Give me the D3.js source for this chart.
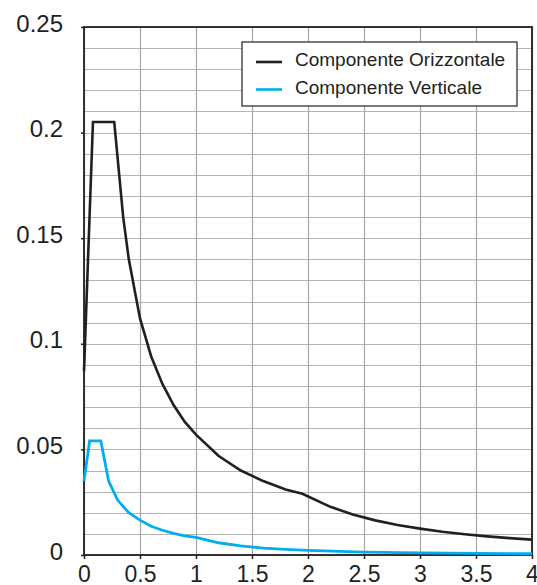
<!DOCTYPE html>
<html>
<head>
<meta charset="utf-8">
<script src="https://cdn.jsdelivr.net/npm/d3@7"></script>
<style>
  html, body { margin: 0; padding: 0; background: #fff; }
  svg text { font-family: "Liberation Sans", Arial, sans-serif; fill: #231f20; }
</style>
</head>
<body>
<div id="chart"></div>
<script>
// periods (s) and spectral values
const periodsH = [0, 0.08, 0.27, 0.3, 0.35, 0.4, 0.5, 0.6, 0.7, 0.8, 0.9, 1.0, 1.2, 1.4, 1.6, 1.8, 1.95,
                  2.2, 2.4, 2.6, 2.8, 3.0, 3.2, 3.4, 3.6, 3.8, 4.0];
const valuesH = [0.087, 0.205, 0.205, 0.188, 0.160, 0.140, 0.112, 0.094, 0.081, 0.071, 0.063, 0.057, 0.047,
                 0.040, 0.035, 0.031, 0.029, 0.0228, 0.0192, 0.0164, 0.0142, 0.0125, 0.0110, 0.0098,
                 0.0088, 0.0080, 0.0073];

const periodsV = [0, 0.05, 0.15, 0.22, 0.3, 0.4, 0.5, 0.6, 0.7, 0.8, 0.9, 1.0, 1.2, 1.4, 1.6, 1.8, 2.0,
                  2.5, 3.0, 3.5, 4.0];
const valuesV = [0.035, 0.054, 0.054, 0.035, 0.026, 0.020, 0.0165, 0.0136, 0.0117, 0.0102, 0.0091, 0.0083,
                 0.0058, 0.0043, 0.0033, 0.0027, 0.0022, 0.0014, 0.0010, 0.0008, 0.0006];

const seriesNames = ['Componente Orizzontale', 'Componente Verticale'];
const seriesColors = ['#231f20', '#00aeef'];

const xTicks = [0, 0.5, 1, 1.5, 2, 2.5, 3, 3.5, 4];
const yTicks = [0, 0.05, 0.1, 0.15, 0.2, 0.25];
const yGrid = d3.range(0, 0.2501, 0.01);

const width = 537, height = 585;
const plotLeft = 84, plotRight = 532, plotTop = 27, plotBottom = 555;

const svg = d3.select('#chart').append('svg')
    .attr('width', width)
    .attr('height', height);

const x = d3.scaleLinear().domain([0, 4]).range([plotLeft, plotRight]);
const y = d3.scaleLinear().domain([0, 0.25]).range([plotBottom, plotTop]);

// grid
svg.append('g')
    .selectAll('line')
    .data(yGrid)
    .join('line')
    .attr('x1', plotLeft).attr('x2', plotRight)
    .attr('y1', d => Math.round(y(d)) + 0.5)
    .attr('y2', d => Math.round(y(d)) + 0.5)
    .style('stroke', '#b4b4b4')
    .style('stroke-width', 1.2);

svg.append('g')
    .selectAll('line')
    .data(xTicks)
    .join('line')
    .attr('x1', d => Math.round(x(d)) + 0.5)
    .attr('x2', d => Math.round(x(d)) + 0.5)
    .attr('y1', plotTop).attr('y2', plotBottom)
    .style('stroke', '#a6a6a6')
    .style('stroke-width', 1.2);

// axes
const fmt = d => String(+d.toFixed(2));

const yAxis = svg.append('g')
    .attr('transform', `translate(${plotLeft},0)`)
    .call(d3.axisLeft(y).tickValues(yTicks).tickFormat(fmt).tickSize(3).tickSizeOuter(0).tickPadding(18));
yAxis.select('.domain').remove();
yAxis.selectAll('line').style('stroke', '#231f20').style('stroke-width', 1.5);
yAxis.selectAll('text')
    .attr('dy', '0.17em')
    .style('font-size', '24px');

const xAxis = svg.append('g')
    .attr('transform', `translate(0,${plotBottom})`)
    .call(d3.axisBottom(x).tickValues(xTicks).tickFormat(fmt).tickSize(4).tickSizeOuter(0));
xAxis.select('.domain').remove();
xAxis.selectAll('line').style('stroke', '#231f20').style('stroke-width', 1.5);
xAxis.selectAll('text')
    .attr('y', 27)
    .attr('dy', 0)
    .style('font-size', '23px');

// frame
svg.append('rect')
    .attr('x', plotLeft).attr('y', plotTop)
    .attr('width', plotRight - plotLeft).attr('height', plotBottom - plotTop)
    .style('fill', 'none')
    .style('stroke', '#231f20')
    .style('stroke-width', 1.8);

// curves
const line = d3.line()
    .x(d => x(d[0]))
    .y(d => y(d[1]));

svg.append('path')
    .datum(d3.zip(periodsH, valuesH))
    .attr('d', line)
    .style('fill', 'none')
    .style('stroke', seriesColors[0])
    .style('stroke-width', 2.6)
    .style('stroke-linejoin', 'miter');

svg.append('path')
    .datum(d3.zip(periodsV, valuesV))
    .attr('d', line)
    .style('fill', 'none')
    .style('stroke', seriesColors[1])
    .style('stroke-width', 2.8)
    .style('stroke-linejoin', 'miter');

// legend
const legend = svg.append('g').attr('transform', 'translate(242,42)');
legend.append('rect')
    .attr('width', 275).attr('height', 64)
    .style('fill', '#fff')
    .style('stroke', '#231f20')
    .style('stroke-width', 1.2);

seriesNames.forEach((name, i) => {
    const yy = 20 + i * 27.5;
    legend.append('line')
        .attr('x1', 14).attr('x2', 40)
        .attr('y1', yy).attr('y2', yy)
        .style('stroke', seriesColors[i])
        .style('stroke-width', 2.6);
    legend.append('text')
        .attr('x', 53)
        .attr('y', yy + 4)
        .style('font-size', '19px')
        .text(name);
});
</script>
</body>
</html>
